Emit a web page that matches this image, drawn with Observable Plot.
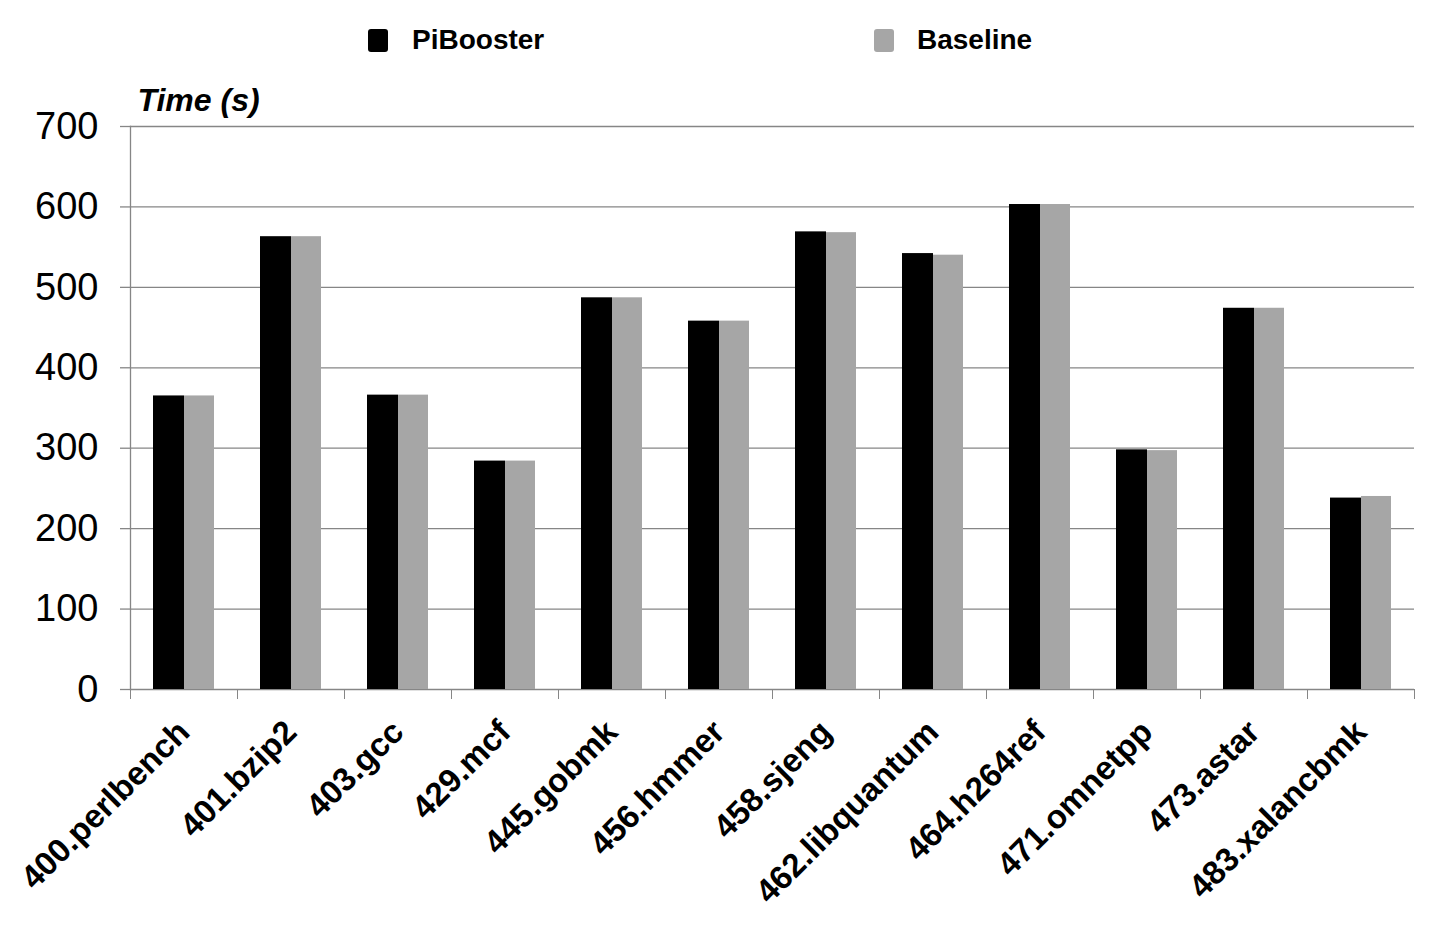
<!DOCTYPE html>
<html>
<head>
<meta charset="utf-8">
<script src="https://cdn.jsdelivr.net/npm/d3@7"></script>
<script src="https://cdn.jsdelivr.net/npm/@observablehq/plot@0.6"></script>
<style>
  html, body { margin: 0; padding: 0; background: #fff; }
  body { width: 1446px; height: 930px; overflow: hidden; font-family: "Liberation Sans", Arial, sans-serif; }
  #legend { position: relative; height: 70px; width: 1446px; }
  .sw { position: absolute; top: 29px; width: 20px; height: 23px; border-radius: 3px; }
  .lb { position: absolute; top: 23px; font-size: 28px; font-weight: bold; line-height: 34px; white-space: nowrap; color: #000; }
</style>
</head>
<body>
<div id="legend"></div>
<div id="chart"></div>
<script>
const categories = ["400.perlbench", "401.bzip2", "403.gcc", "429.mcf", "445.gobmk", "456.hmmer",
  "458.sjeng", "462.libquantum", "464.h264ref", "471.omnetpp", "473.astar", "483.xalancbmk"];
const piBooster = [365, 563, 366, 284, 487, 458, 569, 542, 603, 298, 474, 238];
const baseline  = [365, 563, 366, 284, 487, 458, 568, 540, 603, 297, 474, 240];
const seriesNames = ["PiBooster", "Baseline"];
const seriesColors = ["#000000", "#a6a6a6"];
const yTicks = [0, 100, 200, 300, 400, 500, 600, 700];
const yTitle = "Time (s)";

const rows = categories.map((c, i) => ({category: c, PiBooster: piBooster[i], Baseline: baseline[i]}));

// Legend (HTML, above the SVG)
const legend = document.getElementById("legend");
const legendPos = [[368, 412], [874, 917]];
seriesNames.forEach((name, i) => {
  const sw = document.createElement("div");
  sw.className = "sw";
  sw.style.left = legendPos[i][0] + "px";
  sw.style.background = seriesColors[i];
  legend.appendChild(sw);
  const lb = document.createElement("div");
  lb.className = "lb";
  lb.style.left = legendPos[i][1] + "px";
  lb.textContent = name;
  legend.appendChild(lb);
});

const W = 1446, H = 860, mL = 130, mR = 32, mT = 56, mB = 241;
const step = (W - mL - mR) / categories.length;
const grey = "#868686";

const chart = Plot.plot({
  width: W, height: H,
  marginLeft: mL, marginRight: mR, marginTop: mT, marginBottom: mB,
  style: {fontFamily: "'Liberation Sans', Arial, sans-serif", background: "#fff", color: "#000", overflow: "visible"},
  x: {domain: categories, padding: 0},
  y: {domain: [0, 700]},
  marks: [
    Plot.gridY(yTicks, {stroke: grey, strokeOpacity: 1, strokeWidth: 1.3}),
    Plot.barY(rows, {x: "category", y: "PiBooster", fill: seriesColors[0], insetLeft: 23, insetRight: 53}),
    Plot.barY(rows, {x: "category", y: "Baseline", fill: seriesColors[1], insetLeft: 54, insetRight: 23}),
    Plot.frame({anchor: "left", stroke: grey, strokeWidth: 1.3}),
    Plot.axisY(yTicks, {tickSize: 10, tickPadding: 22, fontSize: 38, stroke: grey, fill: "#000", label: null, strokeWidth: 1.3}),
    Plot.axisX({tickSize: 0, tickRotate: -45, fontSize: 33, fontWeight: "bold", tickPadding: 37, fill: "#000", label: null}),
    Plot.axisX(categories, {tickSize: 10, tickFormat: () => "", dx: -step / 2, stroke: grey, label: null}),
    Plot.axisX([categories[categories.length - 1]], {tickSize: 10, tickFormat: () => "", dx: step / 2, stroke: grey, label: null}),
    Plot.text([yTitle], {frameAnchor: "top-left", dx: 7, dy: -16, lineAnchor: "bottom", fontSize: 32, fontWeight: "bold", fontStyle: "italic", textAnchor: "start", fill: "#000"})
  ]
});
document.getElementById("chart").appendChild(chart);
</script>
</body>
</html>
